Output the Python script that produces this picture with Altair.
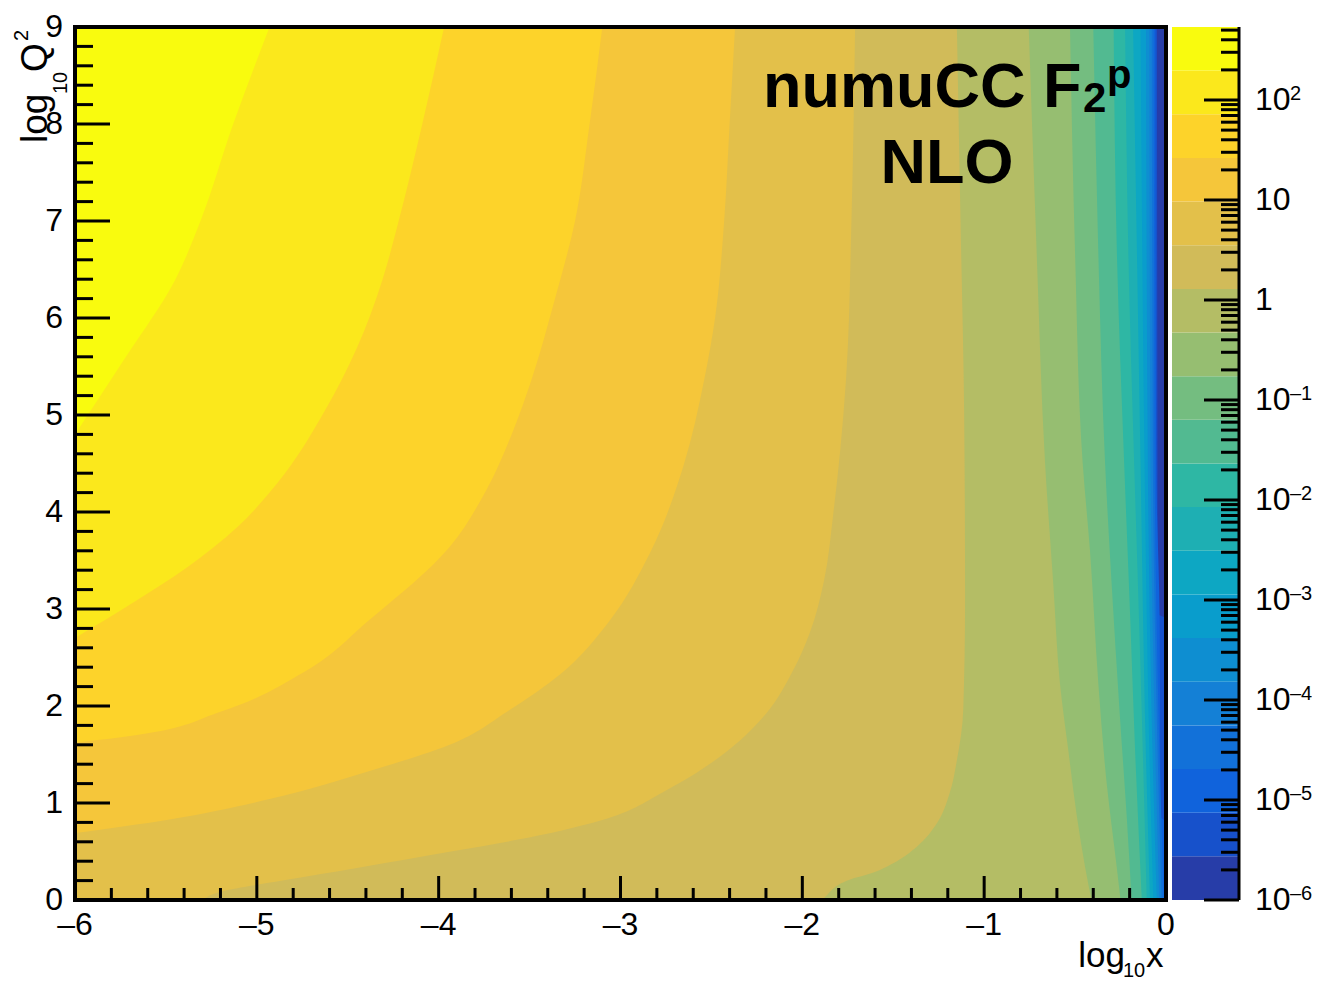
import math
import altair as alt
import pandas as pd

# ---------------- data ----------------
# Iso-lines of the contour levels: for level k, the log10(x) position of the
# boundary at the listed log10(Q^2) values (region left of it is >= level k).
lev19_y = [4.8, 5.6, 6.39, 7.0, 8.0, 9.0]
lev19_x = [-6.0, -5.72, -5.45, -5.31, -5.13, -4.93]
lev18_y = [2.70, 3.09, 3.42, 3.84, 4.29, 5.03, 5.69, 6.39, 7.0, 8.0, 9.0]
lev18_x = [-6.0, -5.66, -5.39, -5.11, -4.89, -4.63, -4.45, -4.31, -4.22, -4.09, -3.97]
lev17_y = [1.62, 1.70, 1.94, 2.35, 2.89, 3.64, 4.22, 4.84, 5.36, 6.2, 7.0, 8.0, 9.0]
lev17_x = [-6.0, -5.66, -5.20, -4.74, -4.38, -3.94, -3.74, -3.59, -3.49, -3.36, -3.25, -3.17, -3.10]
lev16_y = [0.69, 0.83, 1.04, 1.33, 1.60, 1.96, 2.33, 2.88, 3.57, 4.50, 5.36, 6.0, 7.0, 8.0, 9.0]
lev16_x = [-6.0, -5.48, -4.93, -4.38, -3.94, -3.61, -3.33, -3.06, -2.84, -2.65, -2.54, -2.48, -2.43, -2.40, -2.37]
lev15_y = [0.0, 0.085, 0.2, 0.33, 0.51, 0.62, 0.82, 1.13, 1.51, 1.92, 2.37, 2.75, 3.30, 3.98, 4.67, 5.36, 7.0, 9.0]
lev15_x = [-5.30, -5.20, -4.86, -4.45, -3.90, -3.57, -3.11, -2.75, -2.43, -2.20, -2.05, -1.96, -1.88, -1.83, -1.79, -1.76, -1.73, -1.71]
lev14_y = [0.0, 0.03, 0.21, 0.27, 0.38, 0.55, 0.79, 1.10, 1.44, 1.96, 3.09, 5.0, 7.0, 9.0]
lev14_x = [-1.89, -1.875, -1.74, -1.63, -1.50, -1.37, -1.26, -1.19, -1.15, -1.115, -1.105, -1.11, -1.13, -1.15]
lev13_y = [0.0, 0.34, 0.86, 1.54, 2.23, 3.26, 4.5, 6.66, 9.0]
lev13_x = [-0.41, -0.445, -0.49, -0.537, -0.583, -0.62, -0.665, -0.711, -0.755]
lev12_y = [0.0, 0.34, 1.20, 2.23, 3.60, 4.5, 6.66, 9.0]
lev12_x = [-0.25, -0.271, -0.326, -0.372, -0.418, -0.458, -0.50, -0.528]
lev11_y = [0.0, 0.86, 1.88, 3.26, 4.5, 6.66, 9.0]
lev11_x = [-0.189, -0.216, -0.253, -0.299, -0.335, -0.372, -0.40]
lev10_y = [0.0, 1.54, 2.92, 4.5, 6.66, 9.0]
lev10_x = [-0.133, -0.17, -0.197, -0.23, -0.27, -0.288]
lev9_y = [0.0, 2.5, 4.5, 6.66, 9.0]
lev9_x = [-0.106, -0.142, -0.175, -0.207, -0.225]
lev8_y = [0.0, 2.0, 4.5, 9.0]
lev8_x = [-0.088, -0.117, -0.14, -0.181]
lev7_y = [0.0, 2.0, 4.5, 9.0]
lev7_x = [-0.07, -0.097, -0.118, -0.14]
lev6_y = [0.0, 2.0, 4.5, 9.0]
lev6_x = [-0.051, -0.08, -0.10, -0.11]
lev5_y = [0.0, 2.0, 4.5, 9.0]
lev5_x = [-0.037, -0.065, -0.085, -0.092]
lev4_y = [0.0, 2.0, 4.5, 9.0]
lev4_x = [-0.024, -0.052, -0.072, -0.078]
lev3_y = [0.0, 2.0, 4.5, 9.0]
lev3_x = [-0.012, -0.042, -0.062, -0.067]
lev2_y = [0.0, 0.8, 0.86, 2.9, 4.5, 9.0]
lev2_x = [0.0, 0.0, -0.03, -0.035, -0.054, -0.058]
lev1_y = [0.0, 2.9, 2.95, 4.5, 9.0]
lev1_x = [0.0, 0.0, -0.046, -0.047, -0.05]

LEVELS = {
    1: (lev1_y, lev1_x), 2: (lev2_y, lev2_x), 3: (lev3_y, lev3_x),
    4: (lev4_y, lev4_x), 5: (lev5_y, lev5_x), 6: (lev6_y, lev6_x),
    7: (lev7_y, lev7_x), 8: (lev8_y, lev8_x), 9: (lev9_y, lev9_x),
    10: (lev10_y, lev10_x), 11: (lev11_y, lev11_x), 12: (lev12_y, lev12_x),
    13: (lev13_y, lev13_x), 14: (lev14_y, lev14_x), 15: (lev15_y, lev15_x),
    16: (lev16_y, lev16_x), 17: (lev17_y, lev17_x), 18: (lev18_y, lev18_x),
    19: (lev19_y, lev19_x),
}

# contour level edges of the colour bar (log10 F2), 20 bands
level_exp = [-6.0, -5.563, -5.127, -4.690, -4.254, -3.817, -3.381, -2.944,
             -2.508, -2.071, -1.635, -1.198, -0.762, -0.325, 0.111, 0.548,
             0.984, 1.421, 1.857, 2.294, 2.73]

# axes
x_major = [-6, -5, -4, -3, -2, -1, 0]
x_labels = ["\u20136", "\u20135", "\u20134", "\u20133", "\u20132", "\u20131", "0"]
y_major = [0, 1, 2, 3, 4, 5, 6, 7, 8, 9]
y_labels = ["0", "1", "2", "3", "4", "5", "6", "7", "8", "9"]
cb_major_exp = [-6, -5, -4, -3, -2, -1, 0, 1, 2]
cb_base = ["10", "10", "10", "10", "10", "10", "1", "10", "10"]
cb_sup = ["\u20136", "\u20135", "\u20134", "\u20133", "\u20132", "\u20131", "", "", "2"]


# ---------------- styling helpers ----------------
def kbird(f):
    st = [0, .125, .25, .375, .5, .625, .75, .875, 1]
    R = [0.2082, 0.0592, 0.0780, 0.0232, 0.1802, 0.5301, 0.8186, 0.9956, 0.9764]
    G = [0.1664, 0.3599, 0.5041, 0.6419, 0.7178, 0.7492, 0.7328, 0.7862, 0.9832]
    B = [0.5293, 0.8684, 0.8385, 0.7914, 0.6425, 0.4662, 0.3499, 0.1968, 0.0539]
    i = 0
    while i < 7 and f > st[i + 1]:
        i += 1
    t = (f - st[i]) / (st[i + 1] - st[i])
    rgb = [c[i] + (c[i + 1] - c[i]) * t for c in (R, G, B)]
    return "#%02x%02x%02x" % tuple(int(round(v * 255)) for v in rgb)


band_colors = [kbird(math.floor((i + 0.99) * 255 / 20) / 254) for i in range(20)]

FONT = "Liberation Sans"
W, H = 1091, 873
CB_L, CB_R = 1097, 1164

xs = alt.Scale(domain=[-6, 0], nice=False, zero=False)
ys = alt.Scale(domain=[0, 9], nice=False, zero=False)
cbs = alt.Scale(type="log", domain=[10 ** level_exp[0], 10 ** level_exp[-1]], nice=False)

one = pd.DataFrame({"a": [0]})
layers = []

# background = lowest band
layers.append(alt.Chart(one).mark_rect(color=band_colors[0]).encode(
    x=alt.value(0), x2=alt.value(W), y=alt.value(0), y2=alt.value(H)))

for k in range(1, 20):
    yy, xx = LEVELS[k]
    df = pd.DataFrame({"y": yy, "x": xx, "x0": [-6.0] * len(yy)})
    layers.append(alt.Chart(df).mark_area(orient="horizontal", color=band_colors[k],
                                          interpolate="monotone", opacity=1).encode(
        y=alt.Y("y:Q", scale=ys, axis=None),
        x=alt.X("x:Q", scale=xs, axis=None),
        x2=alt.X2("x0:Q"),
    ))

# ticks (inside the frame, ROOT style)
x_minor = [round(-6 + 0.2 * i, 1) for i in range(31) if i % 5]
y_minor = [round(0.2 * i, 1) for i in range(46) if i % 5]
layers.append(alt.Chart(pd.DataFrame({"v": x_major})).mark_rule(color="black", strokeWidth=3).encode(
    x=alt.X("v:Q", scale=xs, axis=None), y=alt.value(H), y2=alt.value(H - 24)))
layers.append(alt.Chart(pd.DataFrame({"v": x_minor})).mark_rule(color="black", strokeWidth=3).encode(
    x=alt.X("v:Q", scale=xs, axis=None), y=alt.value(H), y2=alt.value(H - 12)))
layers.append(alt.Chart(pd.DataFrame({"v": y_major})).mark_rule(color="black", strokeWidth=3).encode(
    y=alt.Y("v:Q", scale=ys, axis=None), x=alt.value(0), x2=alt.value(35)))
layers.append(alt.Chart(pd.DataFrame({"v": y_minor})).mark_rule(color="black", strokeWidth=3).encode(
    y=alt.Y("v:Q", scale=ys, axis=None), x=alt.value(0), x2=alt.value(18)))

# frame
layers.append(alt.Chart(one).mark_rect(filled=False, stroke="black", strokeWidth=4).encode(
    x=alt.value(0), x2=alt.value(W), y=alt.value(0), y2=alt.value(H)))

# tick labels
layers.append(alt.Chart(pd.DataFrame({"v": x_major, "t": x_labels})).mark_text(
    font=FONT, fontSize=32, align="center", baseline="alphabetic", color="black").encode(
    x=alt.X("v:Q", scale=xs, axis=None), y=alt.value(908), text="t:N"))
layers.append(alt.Chart(pd.DataFrame({"v": y_major, "t": y_labels})).mark_text(
    font=FONT, fontSize=32, align="right", baseline="middle", color="black").encode(
    y=alt.Y("v:Q", scale=ys, axis=None), x=alt.value(-12), text="t:N"))

# axis titles
def txt(s, x, y, size, angle=0, align="left", weight="normal"):
    kw = dict(text=s, font=FONT, fontSize=size, align=align, baseline="alphabetic",
              color="black", fontWeight=weight)
    if angle:
        kw["angle"] = angle
    return alt.Chart(one).mark_text(**kw).encode(x=alt.value(x), y=alt.value(y))

layers += [
    txt("log", 1050, 940, 35, align="right"),
    txt("10", 1048, 950, 20),
    txt("x", 1071, 940, 35),
    txt("log", -28.5, 116, 37, angle=270),
    txt("10", -8, 67, 20, angle=270),
    txt("Q", -28.5, 45, 37, angle=270),
    txt("2", -47, 14, 20, angle=270),
    txt("numuCC F", 688, 80, 63, weight="bold"),
    txt("2", 1008, 85, 42, weight="bold"),
    txt("p", 1032, 61, 40, weight="bold"),
    txt("NLO", 872, 156, 63, align="center", weight="bold"),
]

# colour bar
cb_df = pd.DataFrame({
    "lo": [10 ** v for v in level_exp[:-1]],
    "hi": [10 ** v for v in level_exp[1:]],
    "c": band_colors,
})
layers.append(alt.Chart(cb_df).mark_rect().encode(
    y=alt.Y("lo:Q", scale=cbs, axis=None), y2="hi:Q",
    x=alt.value(CB_L), x2=alt.value(CB_R),
    color=alt.Color("c:N", scale=None)))

cb_major_v = [10.0 ** e for e in cb_major_exp]
cb_minor_v = [m * 10.0 ** d for d in range(-6, 3) for m in range(2, 10)
              if m * 10.0 ** d <= 10 ** level_exp[-1]]
layers.append(alt.Chart(pd.DataFrame({"v": cb_major_v})).mark_rule(color="black", strokeWidth=3).encode(
    y=alt.Y("v:Q", scale=cbs, axis=None), x=alt.value(CB_R - 35), x2=alt.value(CB_R)))
layers.append(alt.Chart(pd.DataFrame({"v": cb_minor_v})).mark_rule(color="black", strokeWidth=3).encode(
    y=alt.Y("v:Q", scale=cbs, axis=None), x=alt.value(CB_R - 18), x2=alt.value(CB_R)))
layers.append(alt.Chart(one).mark_rule(color="black", strokeWidth=3).encode(
    x=alt.value(CB_R), y=alt.value(0), y2=alt.value(H)))

cbl = pd.DataFrame({"v": cb_major_v, "b": cb_base, "s": cb_sup})
layers.append(alt.Chart(cbl).mark_text(font=FONT, fontSize=32, align="left",
                                       baseline="middle", color="black").encode(
    y=alt.Y("v:Q", scale=cbs, axis=None), x=alt.value(1180), text="b:N"))
layers.append(alt.Chart(cbl[cbl["s"] != ""]).mark_text(font=FONT, fontSize=20, align="left",
                                                       baseline="alphabetic", color="black").encode(
    y=alt.Y("v:Q", scale=cbs, axis=None), x=alt.value(1215), text="s:N"))

chart = alt.layer(*layers).resolve_scale(x="independent", y="independent").properties(
    width=W, height=H,
    padding={"left": 67, "top": 19, "right": 146, "bottom": 80},
    autosize=alt.AutoSizeParams(type="none"),
    background="white",
).configure_view(strokeWidth=0)

chart.save("out.html", embed_options={"renderer": "svg", "actions": False})
